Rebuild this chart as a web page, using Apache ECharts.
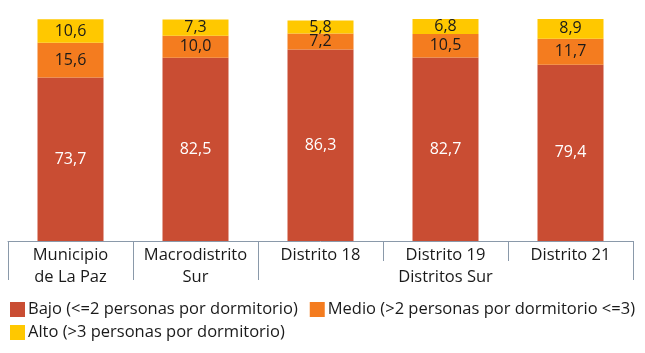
<!DOCTYPE html>
<html><head><meta charset="utf-8">
<script src="https://cdn.jsdelivr.net/npm/echarts@6/dist/echarts.min.js"></script>
<style>html,body{margin:0;padding:0;background:#fff}#c{width:645px;height:353px}</style>
</head><body><div id="c"></div>
<script>
const categories = ['Municipio\nde La Paz', 'Macrodistrito\nSur', 'Distrito 18', 'Distrito 19\nDistritos Sur', 'Distrito 21'];
const bajo  = [73.7, 82.5, 86.3, 82.7, 79.4];
const medio = [15.6, 10.0, 7.2, 10.5, 11.7];
const alto  = [10.6, 7.3, 5.8, 6.8, 8.9];
const seriesNames = ['Bajo (<=2 personas por dormitorio)', 'Medio (>2 personas por dormitorio <=3)', 'Alto (>3 personas por dormitorio)'];
const groupBoundaries = [0, 1, 2, 5];

const FONT = 'Open Sans';
const fmt = p => p.value.toFixed(1).replace('.', ',');
function mk(name, data, color, labelColor) {
  return {
    name, type: 'bar', stack: 't', data, barWidth: 66,
    itemStyle: { color },
    label: { show: true, position: 'inside', formatter: fmt, color: labelColor, fontFamily: FONT, fontSize: 16 }
  };
}
const legendText = { fontFamily: FONT, fontSize: 16.5, color: '#1a1a1a', padding: [0, 0, 0, -2] };
const chart = echarts.init(document.getElementById('c'));
chart.setOption({
  animation: false,
  grid: { left: 8, right: 12, top: 19, bottom: 112, containLabel: false },
  legend: [{
    left: 5, top: 296, itemWidth: 15, itemHeight: 15, itemGap: 12,
    icon: 'rect', textStyle: legendText,
    data: [seriesNames[0], seriesNames[1]]
  }, {
    left: 5, top: 319, itemWidth: 15, itemHeight: 15, itemGap: 12,
    icon: 'rect', textStyle: legendText,
    data: [seriesNames[2]]
  }],
  xAxis: [{
    type: 'category', data: categories,
    axisLine: { lineStyle: { color: '#8a99aa', width: 1 } },
    axisTick: { show: true, interval: 0, length: 20, lineStyle: { color: '#8a99aa' } },
    axisLabel: { interval: 0, hideOverlap: false, fontFamily: FONT, fontSize: 16.5, color: '#1a1a1a', margin: 3, lineHeight: 22 }
  }, {
    type: 'value', min: 0, max: 5, position: 'bottom',
    axisLine: { show: false }, axisLabel: { show: false }, splitLine: { show: false },
    axisTick: { show: true, length: 39, customValues: groupBoundaries, lineStyle: { color: '#8a99aa' } }
  }],
  yAxis: { type: 'value', min: 0, max: 100, show: false },
  series: [
    mk(seriesNames[0], bajo, '#C94D33', '#ffffff'),
    mk(seriesNames[1], medio, '#F47C1F', '#1a1a1a'),
    mk(seriesNames[2], alto, '#FFC800', '#1a1a1a')
  ]
});
</script></body></html>
